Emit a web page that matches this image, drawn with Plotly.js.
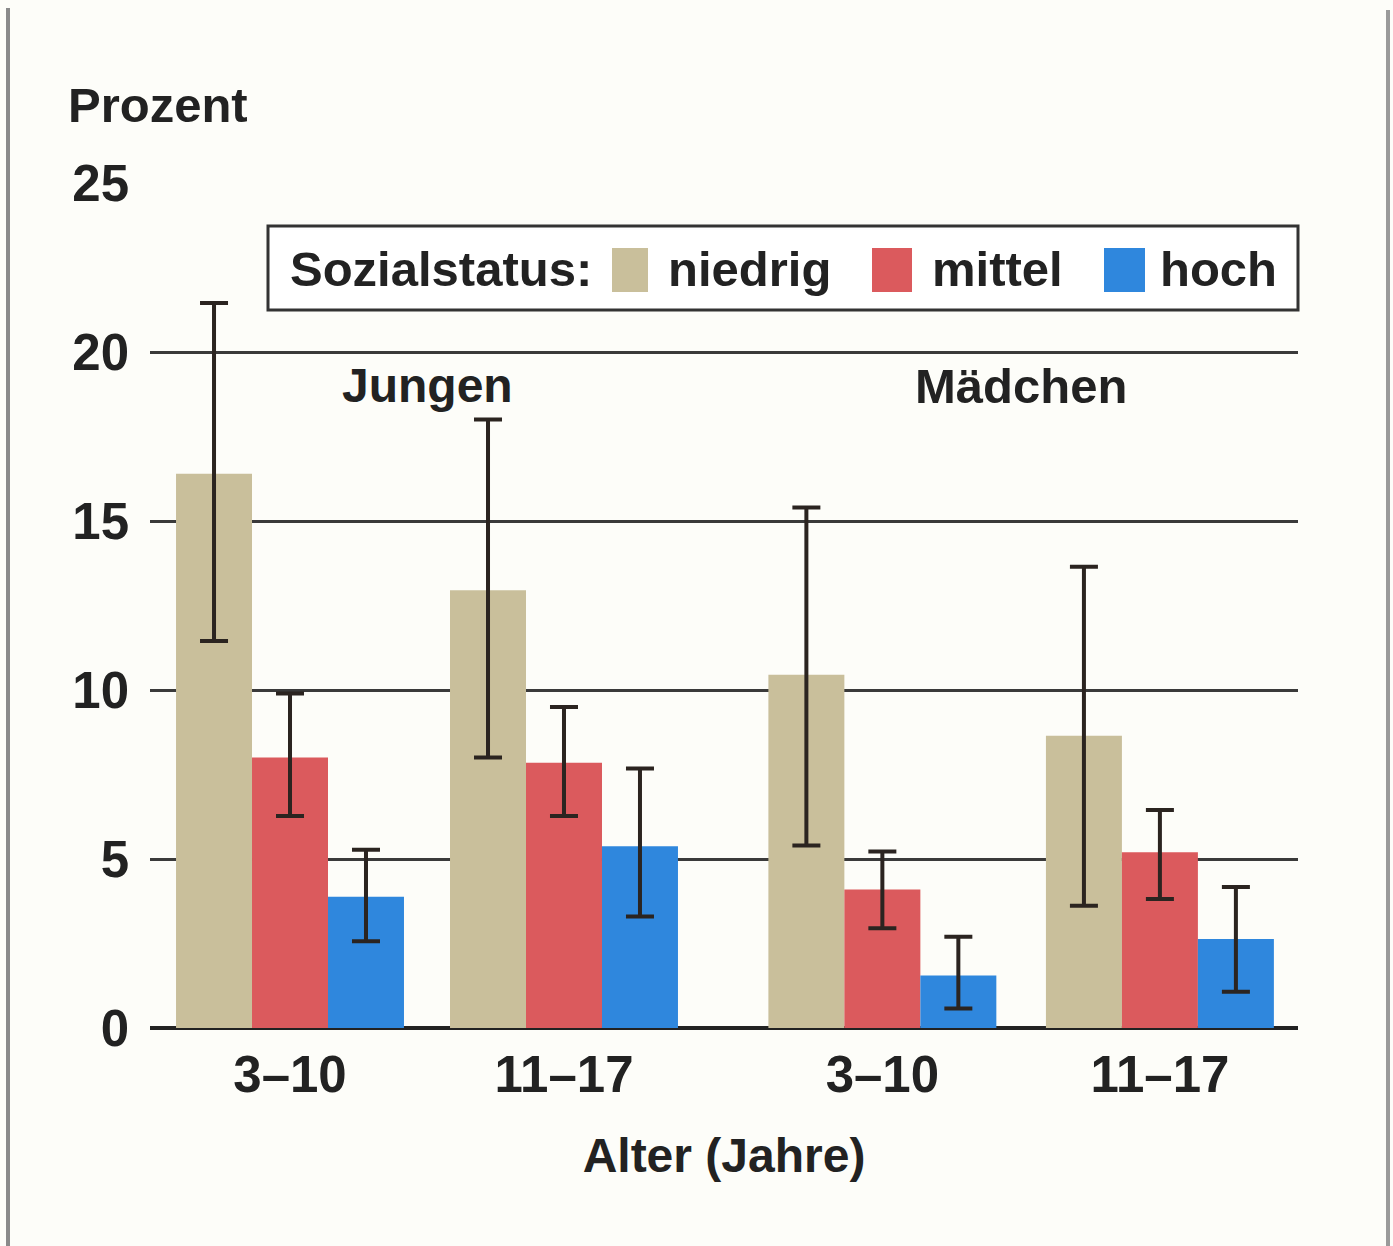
<!DOCTYPE html>
<html>
<head>
<meta charset="utf-8">
<script src="https://cdn.plot.ly/plotly-3.0.1.min.js"></script>
<style>
  html, body { margin: 0; padding: 0; background: #fdfdf9; }
  #chart { width: 1393px; height: 1246px; }
</style>
</head>
<body>
<div id="chart"></div>
<script>
// ---- data ----
const groupPositions = [0, 1, 2.162, 3.175];
const ageLabels = ['3–10', '11–17', '3–10', '11–17'];
const seriesNames = ['niedrig', 'mittel', 'hoch'];
const seriesColors = ['#c9bf9b', '#db5a5d', '#2f87dd'];
const legendTitle = 'Sozialstatus:';

const niedrig   = [16.4, 12.95, 10.45, 8.65];
const niedrigHi = [21.45, 18.0, 15.4, 13.65];
const niedrigLo = [11.45, 8.0, 5.4, 3.62];

const mittel    = [8.0, 7.85, 4.1, 5.2];
const mittelHi  = [9.9, 9.5, 5.22, 6.45];
const mittelLo  = [6.27, 6.27, 2.95, 3.82];

const hoch      = [3.88, 5.38, 1.55, 2.63];
const hochHi    = [5.27, 7.68, 2.7, 4.17];
const hochLo    = [2.57, 3.3, 0.58, 1.07];

const groupLabels = ['Jungen', 'Mädchen'];
const groupLabelX = [0.5, 2.668];

const values = [niedrig, mittel, hoch];
const highs = [niedrigHi, mittelHi, hochHi];
const lows = [niedrigLo, mittelLo, hochLo];

// ---- styling / geometry helpers ----
const FONT = 'Liberation Sans, Arial, Helvetica, sans-serif';
const TXT = '#222222';
const PL = 150, PR = 1298, PT = 183, PB = 1028;   // plot area in pixels
const px = v => (v - PL) / (PR - PL);             // pixel x -> paper x
const py = v => (PB - v) / (PB - PT);             // pixel y -> paper y
const bold = size => ({ family: FONT, size: size, color: TXT, weight: 'bold' });

const traces = seriesNames.map((name, i) => ({
  type: 'bar',
  name: name,
  x: groupPositions,
  y: values[i],
  marker: { color: seriesColors[i], line: { width: 0 } },
  error_y: {
    type: 'data',
    symmetric: false,
    array: highs[i].map((h, k) => h - values[i][k]),
    arrayminus: values[i].map((v, k) => v - lows[i][k]),
    color: '#2b2420',
    thickness: 4,
    width: 14
  },
  hoverinfo: 'y+name'
}));

// hand-built legend (large swatches as in the printed figure)
const swatchLeft = [612, 872, 1104];
const swatchRight = [648, 912, 1145];
const labelLeft = [668, 932, 1160];

const legendShapes = [
  { type: 'rect', xref: 'paper', yref: 'paper', x0: px(268), x1: px(1298), y0: py(310), y1: py(226),
    fillcolor: '#ffffff', line: { color: '#333333', width: 3 } }
].concat(seriesNames.map((n, i) => ({
  type: 'rect', xref: 'paper', yref: 'paper',
  x0: px(swatchLeft[i]), x1: px(swatchRight[i]), y0: py(292), y1: py(248),
  fillcolor: seriesColors[i], line: { width: 0 }
})));

const legendAnnotations = [
  { text: legendTitle, xref: 'paper', yref: 'paper', x: px(288), y: py(269),
    xanchor: 'left', yanchor: 'middle', showarrow: false, font: bold(49) }
].concat(seriesNames.map((n, i) => ({
  text: n, xref: 'paper', yref: 'paper', x: px(labelLeft[i] - 2), y: py(269),
  xanchor: 'left', yanchor: 'middle', showarrow: false, font: bold(49)
})));

const layout = {
  width: 1393,
  height: 1246,
  paper_bgcolor: '#fdfdf9',
  plot_bgcolor: 'rgba(0,0,0,0)',
  margin: { l: 150, r: 95, t: 183, b: 218, pad: 0 },
  barmode: 'group',
  bargap: 0.168,
  bargroupgap: 0,
  font: bold(49),
  showlegend: false,
  xaxis: {
    range: [-0.511, 3.679],
    tickmode: 'array',
    tickvals: groupPositions,
    ticktext: ageLabels,
    showgrid: false,
    zeroline: false,
    showline: false,
    ticks: '',
    tickfont: bold(51),
    ticklabelstandoff: 12,
    title: { text: 'Alter (Jahre)', font: bold(48), standoff: 36 },
    fixedrange: true
  },
  yaxis: {
    range: [0, 25],
    tickvals: [0, 5, 10, 15, 20, 25],
    showgrid: true,
    gridcolor: '#3a3a3a',
    gridwidth: 2.5,
    zeroline: true,
    zerolinecolor: '#222222',
    zerolinewidth: 4,
    showline: false,
    ticks: '',
    tickfont: bold(51),
    ticklabelstandoff: 20,
    fixedrange: true
  },
  annotations: [
    { text: 'Prozent', xref: 'paper', yref: 'paper', x: px(66), y: py(105),
      xanchor: 'left', yanchor: 'middle', showarrow: false, font: bold(49) }
  ].concat(groupLabels.map((t, i) => ({
    text: t, xref: 'x', yref: 'y', x: groupLabelX[i], y: 19.0,
    xanchor: 'center', yanchor: 'middle', showarrow: false, font: bold(i === 0 ? 48 : 49)
  }))).concat(legendAnnotations),
  shapes: [
    { type: 'line', xref: 'paper', yref: 'paper', x0: px(8), x1: px(8), y0: py(1246), y1: py(8),
      line: { color: '#8a8a8a', width: 4 } },
    { type: 'line', xref: 'paper', yref: 'paper', x0: px(1388), x1: px(1388), y0: py(1246), y1: py(10),
      line: { color: '#9a9a9a', width: 4 } }
  ].concat(legendShapes)
};

Plotly.newPlot('chart', traces, layout, { displayModeBar: false, responsive: false });
</script>
</body>
</html>
